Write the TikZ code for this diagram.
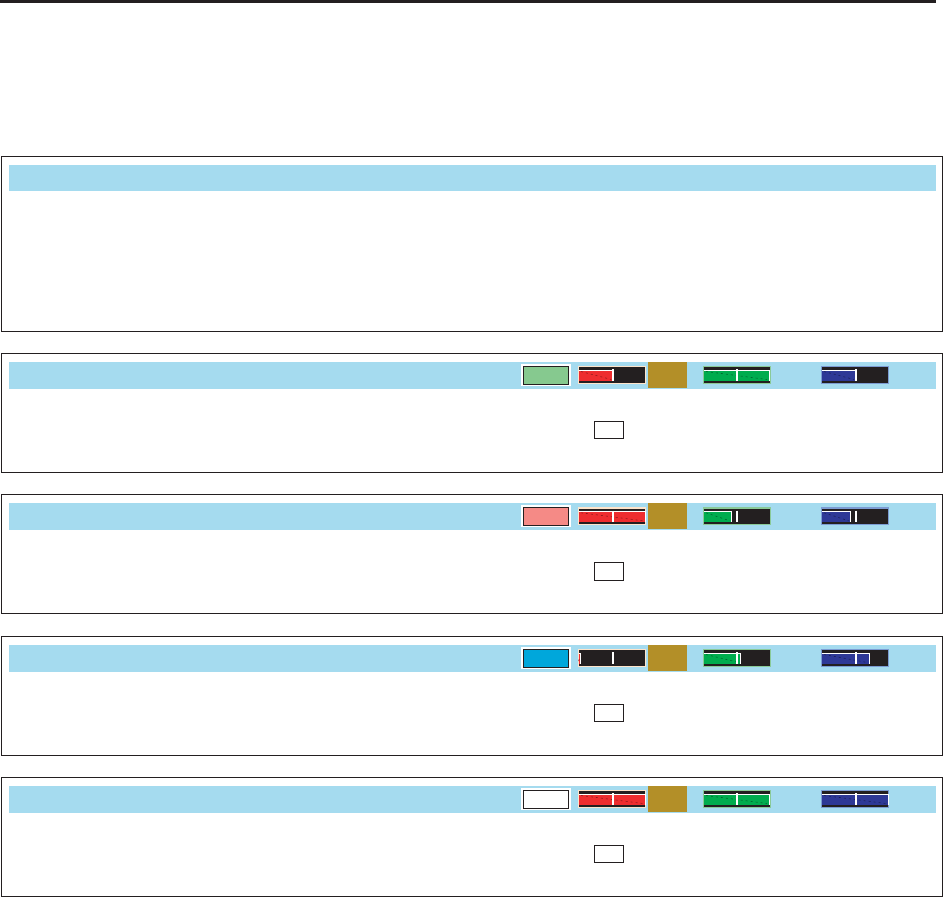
\documentclass[tikz,border=0pt]{standalone}
\usepackage{tikz}
\usetikzlibrary{calc, positioning}
\definecolor{frameBlack}{HTML}{231F20}
\definecolor{barBlue}{HTML}{A5DBEF}
\definecolor{goldTone}{HTML}{B38F28}
\definecolor{swGreen}{HTML}{86C98F}
\definecolor{swSalmon}{HTML}{F58A86}
\definecolor{swCyan}{HTML}{00A7DB}
\definecolor{lvRed}{HTML}{EE2D2F}
\definecolor{lvGreen}{HTML}{00AC4E}
\definecolor{lvBlue}{HTML}{2E3896}
\definecolor{rimRed}{HTML}{FDE4CB}
\definecolor{rimGreen}{HTML}{8ACA98}
\definecolor{rimBlue}{HTML}{7C9CD3}

\tikzset{
  panelbox/.style={draw=frameBlack, line width=1pt},
  headbar/.style={fill=barBlue},
  levelmark/.style={draw=white, line width=2pt},
  levelfill/.style={draw=white, line width=0.8pt},
  levelshade/.style={line width=0.6pt, dash pattern=on 2pt off 3pt},
}

% meter: left x, marker x, fill end x, colour, rim colour, bar top y
\newcommand{\levelmeter}[6]{%
  \fill[#5] (#1,#6+4) rectangle (#1+68,#6+22);
  \fill[frameBlack] (#1+1.3,#6+5.3) rectangle (#1+67,#6+21);
  \fill[#4] (#1+1.3,#6+8) rectangle (#3,#6+18.7);
  \draw[levelshade, #4!60!black] (#1+3,#6+9.5) -- (#3-2,#6+17.5);
  \draw[levelfill] (#1+1.3,#6+8) -- (#3,#6+8) -- (#3,#6+18.7);
  \draw[levelmark] (#2,#6+7.3) -- (#2,#6+18.7);
}

\begin{document}
\begin{tikzpicture}[x=1pt, y=-1pt]
    \useasboundingbox (0,0) rectangle (944,897);

    % Top rule
    \draw[line width=3pt, frameBlack] (0,1.5) -- (936,1.5);

    % Header panel
    \draw[panelbox] (1.5,156.5) rectangle (942.5,331.5);
    \fill[headbar] (9,165) rectangle (936,190.5);

    % Channel panels
    \foreach \yb/\swc/\redend/\greenend/\blueend in {
        362/swGreen/613.3/769/856,
        503.3/swSalmon/645/731.7/850.7,
        645/swCyan/580/740.7/869.3,
        786/white/645/769/888} {
      \draw[panelbox] (1.5,\yb-8.7) rectangle (942.5,\yb+110.5);
      \fill[headbar] (9,\yb) rectangle (936,\yb+27);
      % Swatch
      \fill[white] (521,\yb+2) rectangle (571,\yb+24);
      \draw[fill=\swc, draw=frameBlack, line width=1.2pt] (523.5,\yb+4.5) rectangle (568.5,\yb+22.5);
      % Meters
      \levelmeter{578}{613.3}{\redend}{lvRed}{rimRed}{\yb}
      \fill[goldTone] (648,\yb) rectangle (687,\yb+26);
      \levelmeter{703}{736.7}{\greenend}{lvGreen}{rimGreen}{\yb}
      \levelmeter{821}{856}{\blueend}{lvBlue}{rimBlue}{\yb}
      % Small box
      \draw[frameBlack, line width=0.8pt] (594.3,\yb+59) rectangle (623.7,\yb+76.7);
    }
\end{tikzpicture}
\end{document}
